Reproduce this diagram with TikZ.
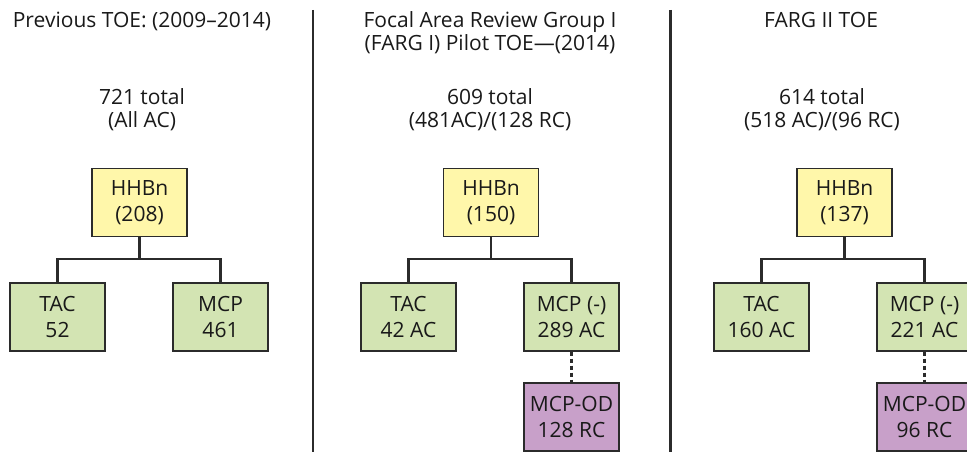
\documentclass[tikz,border=0pt]{standalone}
\usepackage{fontspec}
\setmainfont{Open Sans}
\definecolor{inkline}{HTML}{2B2B2B}
\definecolor{hqfill}{HTML}{FFF7AA}
\definecolor{unitfill}{HTML}{D3E4B3}
\definecolor{odfill}{HTML}{C8A0C9}
\tikzset{
  unitbox/.style={draw=inkline, line width=1.2pt, minimum width=95pt, minimum height=68pt,
    inner sep=0pt, align=center, text=black!90, font=\fontsize{21}{26}\selectfont},
  hqbox/.style={unitbox, fill=hqfill},
  subbox/.style={unitbox, fill=unitfill},
  odbox/.style={unitbox, fill=odfill},
  caption/.style={align=center, text=black!90, inner sep=0pt, anchor=base, font=\fontsize{21}{23}\selectfont},
  tree/.style={draw=inkline, line width=2.4pt},
  dotlink/.style={draw=inkline, line width=2.4pt, dash pattern=on 4pt off 3pt},
  divider/.style={draw=inkline, line width=2.2pt}
}
\begin{document}
\begin{tikzpicture}[x=1pt,y=-1pt]
\useasboundingbox (0,0) rectangle (967,452);
\clip (0,0) rectangle (967,452);

% column dividers
\coordinate (d1t) at (313,10);  \coordinate (d1b) at (313,452);
\coordinate (d2t) at (670.5,10); \coordinate (d2b) at (670.5,452);
\draw[divider] (d1t) -- (d1b);
\draw[divider] (d2t) -- (d2b);

% headings (base anchor sits on the last line)
\node[caption] (t1) at (142,28) {Previous TOE: (2009–2014)};
\node[caption] (t2) at (490,51) {Focal Area Review Group I\\(FARG I) Pilot TOE—(2014)};
\node[caption] (t3) at (821,28) {FARG II TOE};

% totals
\node[caption] (s1) at (142,127) {721 total\\(All AC)};
\node[caption] (s2) at (490,127) {609 total\\(481AC)/(128 RC)};
\node[caption] (s3) at (822,127) {614 total\\(518 AC)/(96 RC)};

% column 1
\node[hqbox]  (h1) at (139.5,202.5) {HHBn\\(208)};
\node[subbox] (a1) at (57.5,317) {TAC\\52};
\node[subbox] (m1) at (220.5,317) {MCP\\461};
\draw[tree] (h1.south) -- ++(0,22) -| (a1.north);
\draw[tree] (h1.south) -- ++(0,22) -| (m1.north);

% column 2
\node[hqbox]  (h2) at (491,202.5) {HHBn\\(150)};
\node[subbox] (a2) at (408.5,317) {TAC\\42 AC};
\node[subbox] (m2) at (571.5,317) {MCP (-)\\289 AC};
\node[odbox]  (o2) at (571.5,417) {MCP-OD\\128 RC};
\draw[tree] (h2.south) -- ++(0,22) -| (a2.north);
\draw[tree] (h2.south) -- ++(0,22) -| (m2.north);
\draw[dotlink] (m2.south) -- (o2.north);

% column 3
\node[hqbox]  (h3) at (844.5,202.5) {HHBn\\(137)};
\node[subbox] (a3) at (761.5,317) {TAC\\160 AC};
\node[subbox] (m3) at (924.5,317) {MCP (-)\\221 AC};
\node[odbox]  (o3) at (924.5,417) {MCP-OD\\96 RC};
\draw[tree] (h3.south) -- ++(0,22) -| (a3.north);
\draw[tree] (h3.south) -- ++(0,22) -| (m3.north);
\draw[dotlink] (m3.south) -- (o3.north);
\end{tikzpicture}
\end{document}
